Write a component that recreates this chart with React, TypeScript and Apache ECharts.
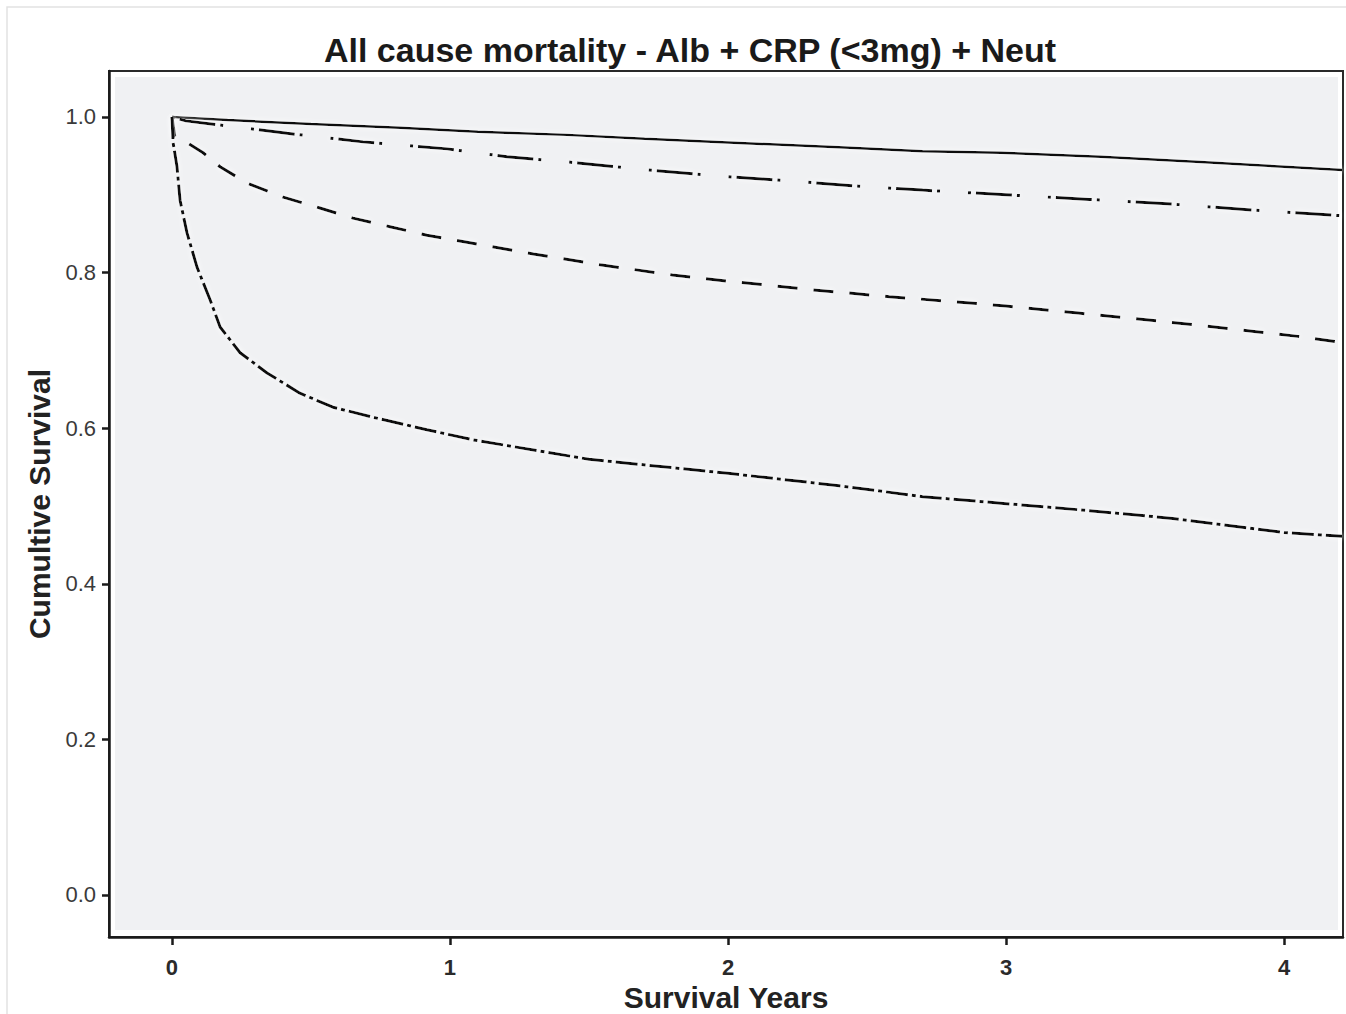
import React, { useEffect, useRef } from "react";
import * as echarts from "echarts";

// ---- Data (years, cumulative survival) ----
const solidYears = [0, 0.2, 0.5, 0.82, 1.1, 1.42, 1.7, 2.02, 2.4, 2.7, 2.98, 3.34, 3.7, 4.0, 4.21];
const solidSurv = [1.0, 0.996, 0.991, 0.986, 0.981, 0.977, 0.972, 0.967, 0.961, 0.956, 0.954, 0.949, 0.942, 0.936, 0.932];

const dashDotYears = [0, 0.05, 0.234, 0.414, 0.687, 0.99, 1.205, 1.46, 1.71, 1.97, 2.22, 2.47, 2.7, 3.0, 3.3, 3.6, 3.9, 4.21];
const dashDotSurv = [1.0, 0.995, 0.987, 0.979, 0.968, 0.959, 0.949, 0.941, 0.932, 0.924, 0.918, 0.911, 0.906, 0.9, 0.894, 0.888, 0.88, 0.873];

const dashedYears = [0, 0.01, 0.054, 0.112, 0.173, 0.27, 0.4, 0.532, 0.651, 0.784, 0.917, 1.061, 1.3, 1.54, 1.8, 2.0, 2.3, 2.58, 2.8, 3.0, 3.26, 3.46, 3.7, 3.9, 4.05, 4.21];
const dashedSurv = [1.0, 0.975, 0.967, 0.954, 0.936, 0.915, 0.897, 0.883, 0.87, 0.859, 0.848, 0.839, 0.824, 0.81, 0.797, 0.789, 0.778, 0.769, 0.763, 0.757, 0.748, 0.741, 0.732, 0.724, 0.718, 0.71];

const lowYears = [0, 0.004, 0.018, 0.029, 0.054, 0.09, 0.137, 0.173, 0.245, 0.342, 0.46, 0.579, 0.723, 0.917, 1.083, 1.5, 2.0, 2.4, 2.7, 3.0, 3.3, 3.6, 4.0, 4.21];
const lowSurv = [1.0, 0.967, 0.936, 0.893, 0.851, 0.807, 0.765, 0.73, 0.697, 0.671, 0.645, 0.627, 0.614, 0.598, 0.585, 0.56, 0.542, 0.526, 0.512, 0.503, 0.494, 0.484, 0.466, 0.461];

const yTicks = [0.0, 0.2, 0.4, 0.6, 0.8, 1.0];
const xTicks = [0, 1, 2, 3, 4];

const titleText = "All cause mortality - Alb + CRP (<3mg) + Neut";
const xName = "Survival Years";
const yName = "Cumultive Survival";

const zip = (a: number[], b: number[]) => a.map((v, i) => [v, b[i]]);

const FONT = "Liberation Sans, Arial, Helvetica, sans-serif";

export default function App() {
  const ref = useRef<HTMLDivElement>(null);
  useEffect(() => {
    if (!ref.current) return;
    const chart = echarts.init(ref.current, undefined, { renderer: "svg" });
    const halo = { shadowColor: "#ffffff", shadowBlur: 5 };
    const lineBase = (name: string, data: number[][], type: any, width: number) => ({
      name,
      type: "line",
      data,
      showSymbol: false,
      symbol: "none",
      smooth: false,
      z: 3,
      lineStyle: { color: "#111", width, type, ...halo },
    });
    chart.setOption({
      animation: false,
      backgroundColor: "#ffffff",
      textStyle: { fontFamily: FONT },
      grid: {
        left: 109,
        top: 71,
        width: 1234,
        height: 866,
        containLabel: false,
        outerBoundsMode: "none",
        show: true,
        backgroundColor: "#ffffff",
        borderColor: "#2a2a2a",
        borderWidth: 2,
      },
      xAxis: {
        type: "value",
        min: -0.2266,
        max: 4.2122,
        name: xName,
        nameLocation: "middle",
        nameGap: 36,
        nameTextStyle: { fontFamily: FONT, fontSize: 30, fontWeight: "bold", color: "#222", lineHeight: 30 },
        splitLine: { show: false },
        axisLine: { show: true, onZero: false, lineStyle: { color: "#1a1a1a", width: 2.5 } },
        axisTick: { show: true, length: 8, lineStyle: { color: "#1a1a1a", width: 2.5 }, customValues: xTicks },
        axisLabel: {
          customValues: xTicks,
          margin: 19,
          fontSize: 22,
          fontWeight: "bold",
          color: "#2a2a2a",
          fontFamily: FONT,
          formatter: (v: number) => String(Math.round(v)),
        },
      },
      yAxis: {
        type: "value",
        min: -0.054,
        max: 1.0591,
        name: yName,
        nameLocation: "middle",
        nameGap: 54,
        nameRotate: 90,
        nameTextStyle: { fontFamily: FONT, fontSize: 30, fontWeight: "bold", color: "#222" },
        splitLine: { show: false },
        axisLine: { show: true, onZero: false, lineStyle: { color: "#1a1a1a", width: 2.5 } },
        axisTick: { show: true, length: 7, lineStyle: { color: "#1a1a1a", width: 2.5 }, customValues: yTicks },
        axisLabel: {
          customValues: yTicks,
          margin: 13,
          fontSize: 22,
          color: "#3a3a3a",
          fontFamily: FONT,
          formatter: (v: number) => v.toFixed(1),
        },
      },
      graphic: [
        {
          type: "rect",
          silent: true,
          z: -10,
          shape: { x: 7, y: 7, width: 1400, height: 1100 },
          style: { fill: "none", stroke: "#e2e2e2", lineWidth: 1.5 },
        },
        {
          type: "rect",
          silent: true,
          z: 1,
          shape: { x: 115, y: 77, width: 1223, height: 853 },
          style: { fill: "#f0f1f3" },
        },
        {
          type: "text",
          silent: true,
          x: 690,
          y: 50,
          style: {
            text: titleText,
            fontFamily: FONT,
            fontSize: 34,
            fontWeight: "bold",
            fill: "#1a1a1a",
            align: "center",
            verticalAlign: "middle",
          },
        },
      ],
      series: [
        lineBase("Group 1", zip(solidYears, solidSurv), "solid", 2.5),
        lineBase("Group 2", zip(dashDotYears, dashDotSurv), [3, 5, 36, 5, 3, 28], 3),
        lineBase("Group 3", zip(dashedYears, dashedSurv), [20, 16], 3),
        lineBase("Group 4", zip(lowYears, lowSurv), [22, 4, 4, 4], 3),
      ],
    });
    return () => chart.dispose();
  }, []);
  return (
    <div
      ref={ref}
      style={{ position: "absolute", left: 0, top: 0, width: 1346, height: 1014 }}
    />
  );
}
